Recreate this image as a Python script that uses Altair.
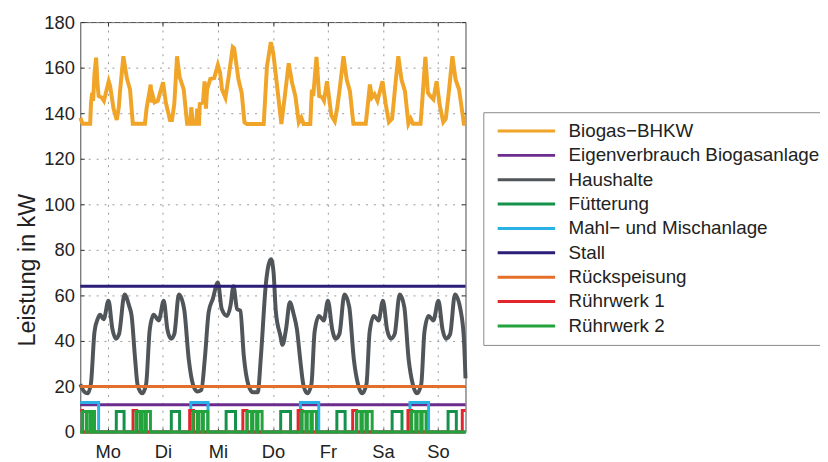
import altair as alt
import pandas as pd

T_MAX = 168
DAYS = ["Mo", "Di", "Mi", "Do", "Fr", "Sa", "So"]
DAY_TICKS = [12, 36, 60, 84, 108, 132, 156]
Y_TICKS = [0, 20, 40, 60, 80, 100, 120, 140, 160, 180]

SERIES = ["Biogas−BHKW", "Eigenverbrauch Biogasanlage", "Haushalte", "Fütterung",
          "Mahl− und Mischanlage", "Stall", "Rückspeisung", "Rührwerk 1", "Rührwerk 2"]
COLORS = ["#F0A428", "#6C2C8E", "#50555A", "#14924A", "#2AB2E6",
          "#2A1E78", "#E2702A", "#E3262B", "#22A33C"]
WIDTHS = [4, 3, 4, 3, 3, 3, 3, 3, 3]
INTERP = ["linear", "linear", "monotone", "linear", "linear", "linear", "linear", "linear", "linear"]

BIOGAS_T = [0, 1, 4.3, 4.7, 5.2, 5.6, 6.2, 6.9, 7.5, 8, 9.3, 10.3, 12.4, 13, 14.5, 15.9,
            16.8, 17.4, 18.8, 20.3, 21.7, 22.9, 28.2, 28.9, 30.7, 31.2, 31.8, 32.4, 33.8,
            36.1, 37.3, 39.1, 40, 41, 42.2, 43.3, 45.1, 46.6, 47.9, 48.4, 49.1, 50.6, 51,
            51.4, 51.8, 52.1, 53.5, 54.2, 54.8, 55.3, 56.7, 58.4, 60, 61, 61.8, 63.3, 64.7,
            66.5, 67.1, 69, 70.4, 71.6, 72.6, 80, 81.4, 83.1, 84.2, 86, 87.7, 89.2, 90.9,
            92.4, 93.8, 95.3, 96.4, 97.4, 100.3, 101, 101.6, 103, 104.2, 105.5, 106.3, 107.6,
            109.5, 111, 112, 113.3, 114.8, 116.2, 117.6, 119.1, 124.5, 125.5, 126.3, 127.2,
            128.3, 129.6, 131.8, 133.2, 134.6, 136, 137.5, 138.7, 140.1, 141.6, 143.1, 144.1,
            145.1, 148.4, 149.1, 150.5, 151.6, 152.6, 154, 155.4, 156.8, 158.3, 159.4, 160.7,
            162.3, 163.7, 165.2, 166.6, 167.3, 168]
BIOGAS_V = [138, 135.4, 135.4, 144.7, 149, 145.4, 157.6, 164.4, 153, 147.6, 146.9, 145.4, 154,
            152, 142, 137, 142.6, 150.4, 165, 155.4, 150.4, 135.4, 135.4, 142, 152.6, 144.7,
            147, 144.7, 145.4, 153.6, 144.7, 137, 137, 144, 165, 156, 150.4, 135.4, 135.4,
            142.6, 135.4, 135.4, 142, 135.4, 135.4, 144, 144.7, 154, 142, 150.4, 155, 155.4,
            161.2, 157.6, 150.4, 146.8, 156, 169, 168.5, 154.7, 148.9, 136, 135.3, 135.3, 160.4,
            171.2, 166.2, 150.4, 135.3, 147.5, 161.9, 153.2, 147.5, 136, 138.1, 135.3, 135.3,
            150.4, 147.5, 164.7, 147.5, 147, 145.5, 154, 139, 136.5, 142, 152, 165, 154.7,
            149.7, 135.4, 135.4, 144.7, 152.6, 146.9, 148.3, 145.4, 154, 144, 136.1, 137.6,
            153.3, 165, 154.7, 149.7, 135.4, 137.6, 135.4, 135.4, 144.7, 164.7, 149, 147.6,
            146.1, 154, 143.3, 136.1, 137.6, 149, 165, 154.7, 150.4, 140.4, 135.4, 135.4]

HAUSHALTE_T = [0, 1.7, 3.2, 4.6, 6.2, 7.6, 8.6, 10.2, 12.3, 14, 15.5, 16.9, 19.3, 21.3, 22.4,
               23.9, 25, 27, 28.7, 30.3, 32, 34.2, 36.4, 38, 39.6, 41, 43, 45.3, 47.3, 49.2,
               51, 52.8, 54.3, 56, 57.8, 60, 61.7, 64, 65.5, 66.8, 68.4, 69.8, 71.3, 73.3,
               75.2, 77.4, 78.8, 81, 83.2, 84.3, 85.3, 87.2, 88.2, 89.7, 91.4, 93, 94.5, 95.9,
               97.3, 99, 100.8, 102.2, 104.1, 106.2, 108, 109.9, 111.3, 113, 115.2, 117.3,
               119.3, 121.2, 122.9, 124.8, 126.2, 128, 130.1, 132, 133.8, 135.5, 137.1, 139.3,
               141.3, 143.2, 145.1, 146.8, 148.7, 150.1, 151.9, 154, 156.2, 158, 159.5, 161.3,
               163.4, 165.9, 167.3, 168]
HAUSHALTE_V = [21, 17.8, 17, 21, 44, 49.7, 51.5, 49.5, 57.7, 45.3, 41, 43, 60.4, 55.4, 51,
               32.2, 20.7, 17, 21, 45, 51.5, 49, 57.7, 45, 41, 43, 60.4, 54, 32, 20.7,
               17.8, 18.5, 32, 52.7, 58.5, 65.7, 54, 51, 55.4, 64, 54, 53.3, 33.6, 20.7,
               17.5, 17.5, 33.6, 65.7, 75.9, 70, 52.7, 42.6, 38.3, 45, 57, 52, 45, 32,
               20.7, 17, 21, 44, 51, 49, 57.7, 45, 41, 43, 60.4, 55,
               32, 20.7, 17, 21, 44, 51, 49, 57.7, 45, 41, 43, 60.4,
               55, 32, 20.7, 17, 21, 44, 51, 49, 57.7, 45, 41, 43,
               60.4, 53.3, 41, 23.6]

EIGENVERBRAUCH_LEVEL = 12
STALL_LEVEL = 64
RUECKSPEISUNG_LEVEL = 20

MAHL_HEIGHT = 13
MAHL_PULSES = [(0, 8), (48.2, 55.7), (96, 104), (143.8, 151.9)]
RW1_HEIGHT = 9.5
RW1_PULSES = [(0, 1), (23, 24.6), (47.7, 49.4), (70.9, 72.7), (95, 96.7), (118.8, 120.5),
              (142.9, 144.5), (166.6, 168)]
FUETTERUNG_HEIGHT = 9
FUETTERUNG_PULSES = [(15.7, 19.1), (39.7, 43.3), (63.6, 67.7), (87.4, 91.7), (111.9, 115.5),
                     (136, 140.3), (160.4, 164)]
RW2_HEIGHT = 9
RW2_PULSES = [(0.9, 2.6), (3.0, 4.4), (5.0, 6.2),
              (24.3, 26.0), (26.7, 28.1), (28.8, 30.6),
              (49.2, 51.0), (51.6, 53.1), (53.7, 55.6),
              (72.8, 74.7), (75.3, 76.9), (77.5, 79.3),
              (96.6, 98.4), (99.0, 100.6), (101.2, 103.0),
              (120.6, 122.4), (123.0, 124.6), (125.2, 127.3),
              (144.5, 146.3), (146.9, 148.5), (149.1, 150.8)]


def step_points(pulses, h):
    pts = []
    for a, b in pulses:
        if a <= 0:
            pts.append((0, h))
        else:
            if not pts:
                pts.append((0, 0))
            pts += [(a, 0), (a, h)]
        if b >= T_MAX:
            pts.append((T_MAX, h))
        else:
            pts += [(b, h), (b, 0)]
    if pts[-1][0] < T_MAX:
        pts.append((T_MAX, 0))
    return pts


series_points = {
    SERIES[0]: list(zip(BIOGAS_T, BIOGAS_V)),
    SERIES[1]: [(0, EIGENVERBRAUCH_LEVEL), (T_MAX, EIGENVERBRAUCH_LEVEL)],
    SERIES[2]: list(zip(HAUSHALTE_T, HAUSHALTE_V)),
    SERIES[3]: step_points(FUETTERUNG_PULSES, FUETTERUNG_HEIGHT),
    SERIES[4]: step_points(MAHL_PULSES, MAHL_HEIGHT),
    SERIES[5]: [(0, STALL_LEVEL), (T_MAX, STALL_LEVEL)],
    SERIES[6]: [(0, RUECKSPEISUNG_LEVEL), (T_MAX, RUECKSPEISUNG_LEVEL)],
    SERIES[7]: step_points(RW1_PULSES, RW1_HEIGHT),
    SERIES[8]: step_points(RW2_PULSES, RW2_HEIGHT),
}

rows = []
for name in SERIES:
    for i, (t, v) in enumerate(series_points[name]):
        rows.append({"series": name, "t": t, "v": v, "idx": i})
df = pd.DataFrame(rows)

xscale = alt.Scale(domain=[0, T_MAX], nice=False, zero=False)
yscale = alt.Scale(domain=[0, 180], nice=False)

label_expr = "[" + ",".join("'%s'" % d for d in DAYS) + "][floor(datum.value / 24)]"

color_enc = alt.Color(
    "series:N",
    scale=alt.Scale(domain=SERIES, range=COLORS),
    legend=alt.Legend(
        title=None, orient="none", legendX=407, legendY=91,
        symbolType="stroke", symbolSize=3364, symbolStrokeWidth=3, symbolOffset=4,
        labelFontSize=19, labelColor="#222", labelOffset=12, labelLimit=600,
        clipHeight=20, rowPadding=4.6, padding=9,
        strokeColor="#8a8a8a", fillColor="white",
    ),
)

layers = []
for name, w, ip in zip(SERIES, WIDTHS, INTERP):
    layers.append(
        alt.Chart(df)
        .transform_filter(alt.datum.series == name)
        .mark_line(strokeWidth=w, interpolate=ip)
        .encode(
            x=alt.X("t:Q", scale=xscale, axis=None),
            y=alt.Y("v:Q", scale=yscale, axis=None),
            color=color_enc,
            order=alt.Order("idx:Q"),
        )
    )

axis_main = alt.Chart(df).mark_point(opacity=0).encode(
    x=alt.X("t:Q", scale=xscale, title=None,
            axis=alt.Axis(orient="bottom", values=DAY_TICKS, labelExpr=label_expr,
                          labelFontSize=18.5, labelColor="#222", labelPadding=11,
                          tickSize=4, offset=-4, domain=False, grid=True,
                          gridDash=[2, 6], gridColor="#9a9a9a", tickColor="#333")),
    y=alt.Y("v:Q", scale=yscale, title="Leistung in kW",
            axis=alt.Axis(orient="left", values=Y_TICKS, labelFontSize=18.5,
                          labelColor="#222", labelPadding=6, tickSize=4, offset=-4,
                          domain=False, grid=True, gridDash=[2, 6], gridColor="#9a9a9a",
                          tickColor="#333", titleFontSize=23.5, titleFontWeight="normal",
                          titleColor="#222", titleX=-57, titleY=250, titleAlign="center",
                          titleBaseline="middle")),
)

axis_mirror = alt.Chart(df).mark_point(opacity=0).encode(
    x=alt.X("t:Q", scale=xscale, title=None,
            axis=alt.Axis(orient="top", values=DAY_TICKS, labels=False, tickSize=4,
                          offset=-4, domain=False, grid=False, tickColor="#333")),
    y=alt.Y("v:Q", scale=yscale, title=None,
            axis=alt.Axis(orient="right", values=Y_TICKS, labels=False, tickSize=4,
                          offset=-4, domain=False, grid=False, tickColor="#333")),
)

chart = (
    alt.layer(axis_main, axis_mirror, *layers)
    .resolve_axis(x="independent", y="independent")
    .properties(
        width=389, height=414,
        autosize=alt.AutoSizeParams(type="none"),
        padding={"left": 73, "top": 12, "right": 358, "bottom": 28},
    )
    .configure(font="Liberation Sans")
    .configure_view(stroke="#4a4a4a", strokeWidth=1)
)

chart.save("out.html", embed_options={"renderer": "svg", "actions": False})
